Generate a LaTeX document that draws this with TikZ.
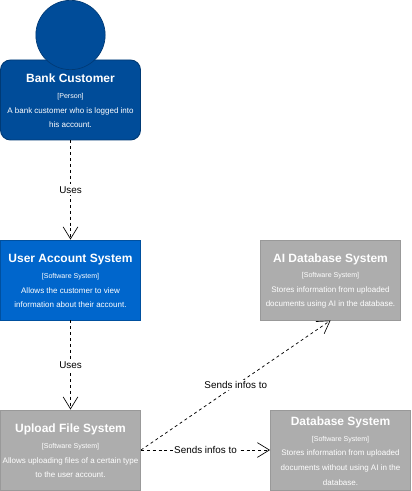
\documentclass[tikz,border=0pt]{standalone}
\usepackage{fontspec}
\setmainfont{Liberation Sans}
\usetikzlibrary{arrows.meta}
\definecolor{personblue}{HTML}{004C99}
\definecolor{personline}{HTML}{003A75}
\definecolor{systemblue}{HTML}{0066CC}
\definecolor{systemline}{HTML}{00509F}
\definecolor{systemgray}{HTML}{ADADAD}
\definecolor{grayline}{HTML}{999999}
\newcommand{\boxtext}[3]{\rule{0pt}{8pt}{\fontsize{9}{12}\selectfont\bfseries #1}\\[0.6pt]
  {\fontsize{5.3}{6}\selectfont [#2]}\\ #3}
\tikzset{
  sysbox/.style={draw, line width=0.7pt, text=white, align=center, inner sep=0pt,
    font=\fontsize{6}{11}\selectfont, minimum width=105pt, minimum height=60pt},
  usesline/.style={draw=black, line width=0.55pt, dash pattern=on 2.2pt off 2.2pt,
    -{Straight Barb[length=9pt,width=11pt,line width=0.5pt]}},
  linklabel/.style={fill=white, text=black, font=\fontsize{7.4}{8}\selectfont, inner sep=1pt}
}

\begin{document}
\begin{tikzpicture}[x=0.75pt, y=-0.75pt]
  % Fix the page to the size of the picture
  \useasboundingbox (0,0) rectangle (411,491);

  % The person
  \node[sysbox, rounded corners=7.5pt, fill=personblue, draw=personline] (customer) at (70.5,100)
    {\boxtext{Bank Customer}{Person}{A bank customer who is logged into\\ his account.}};
  \node[circle, fill=personblue, draw=personline, line width=0.5pt, minimum size=52pt, inner sep=0pt] (head) at (70.5,35) {};

  % The software systems
  \node[sysbox, fill=systemblue, draw=systemline] (account) at (70.5,280)
    {\boxtext{User Account System}{Software System}{Allows the customer to view\\ information about their account.}};
  \node[sysbox, fill=systemgray, draw=grayline] (upload) at (70.5,450)
    {\boxtext{Upload File System}{Software System}{Allows uploading files of a certain type\\ to the user account.}};
  \node[sysbox, fill=systemgray, draw=grayline] (aidb) at (330.5,280)
    {\boxtext{AI Database System}{Software System}{Stores information from uploaded\\ documents using AI in the database.}};
  \node[sysbox, fill=systemgray, draw=grayline] (db) at (340.5,450)
    {\boxtext{Database System}{Software System}{Stores information from uploaded\\ documents without using AI in the\\ database.}};

  % The connectors
  \draw[usesline] (customer) -- node[linklabel] (uses1) {Uses} (account);
  \draw[usesline] (account) -- node[linklabel] (uses2) {Uses} (upload);
  \draw[usesline] (upload.east) -- node[linklabel] (sends1) {Sends infos to} (aidb.south);
  \draw[usesline] (upload.east) -- node[linklabel] (sends2) {Sends infos to} (db.west);
\end{tikzpicture}
\end{document}
